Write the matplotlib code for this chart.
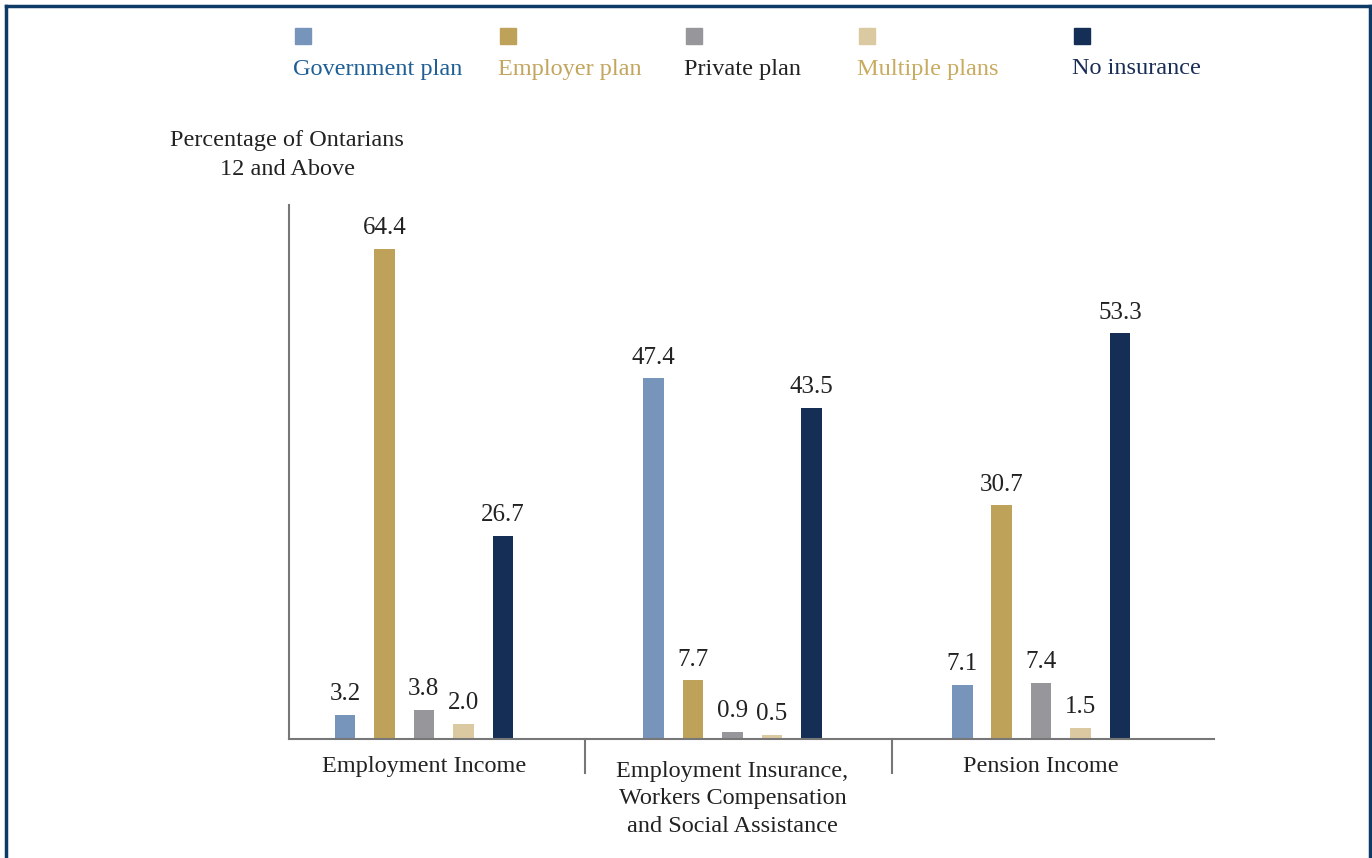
import matplotlib
matplotlib.use("Agg")
import matplotlib.pyplot as plt
from matplotlib.lines import Line2D
from matplotlib.patches import Rectangle
import numpy as np

plt.rcParams['font.family'] = ['Liberation Serif', 'DejaVu Serif']

categories = ["Employment Income",
              "Employment Insurance,\nWorkers Compensation\nand Social Assistance",
              "Pension Income"]
series_names = ["Government plan", "Employer plan", "Private plan", "Multiple plans", "No insurance"]
government = [3.2, 47.4, 7.1]
employer = [64.4, 7.7, 30.7]
private = [3.8, 0.9, 7.4]
multiple = [2.0, 0.5, 1.5]
no_insurance = [26.7, 43.5, 53.3]
series_values = [government, employer, private, multiple, no_insurance]

bar_colors = ["#7795bb", "#bea25a", "#97979b", "#dbc9a1", "#142e55"]
text_colors = ["#1f5f96", "#c3a55e", "#222222", "#c9ab60", "#1a2e55"]

W, H = 1372, 858
fig = plt.figure(figsize=(W / 100, H / 100), dpi=100)
ax = fig.add_axes([289 / W, 1 - 739 / H, (1214 - 289) / W, (739 - 205) / H])

ppu = 309.0
ppy = 7.61
x = np.arange(len(categories))
offsets = np.array([-2, -1, 0, 1, 2]) * (39.5 / ppu)
bw = 20.5 / ppu
for i, (vals, col) in enumerate(zip(series_values, bar_colors)):
    bars = ax.bar(x + offsets[i], vals, width=bw, color=col, zorder=2)
    for b, v in zip(bars, vals):
        ax.annotate(f"{v:.1f}", (b.get_x() + b.get_width() / 2, v),
                    xytext=(0, 7), textcoords="offset points",
                    ha="center", va="bottom", fontsize=18, color="#222222")

ax.set_xlim(-(424 - 289) / ppu, 2 + (1214 - 1041) / ppu)
ax.set_ylim(0, (739 - 205) / ppy)
for s in ["top", "right"]:
    ax.spines[s].set_visible(False)
for s in ["left", "bottom"]:
    ax.spines[s].set_color("#777777")
    ax.spines[s].set_linewidth(1.5)
ax.set_yticks([])
ax.set_xticks([])
# separators
for sx in [(585 - 424) / ppu, (893 - 424) / ppu]:
    ax.plot([sx, sx], [0, -34 / ppy], color="#777777", lw=1.5, clip_on=False)
for xi, cat in zip(x, categories):
    extra = 5 if "\n" in cat else 0
    ax.text(xi, -(17 + extra) / ppy, cat, ha="center", va="top", fontsize=17.5,
            color="#222222", linespacing=1.4)

# y-label
fig.text(287 / W, 1 - 155 / H, "Percentage of Ontarians\n12 and Above", ha="center",
         va="center", fontsize=17.5, color="#222222", linespacing=1.5)

# legend
leg_x = [295, 500, 686, 859, 1074]
for lx, name, bc, tc in zip(leg_x, series_names, bar_colors, text_colors):
    fig.patches.append(Rectangle((lx / W, 1 - 44 / H), 16 / W, 16 / H,
                                 transform=fig.transFigure, color=bc, figure=fig))
    fig.text((lx - 2) / W, 1 - 69 / H, name, ha="left", va="center", fontsize=17.5, color=tc)

# border
bc = "#0e3a66"
fig.lines.append(Line2D([5.5 / W, 5.5 / W], [0, 1 - 5.5 / H], transform=fig.transFigure, color=bc, lw=2.5))
fig.lines.append(Line2D([5.5 / W, 1369.5 / W], [1 - 5.5 / H, 1 - 5.5 / H], transform=fig.transFigure, color=bc, lw=2.5))
fig.lines.append(Line2D([1369.5 / W, 1369.5 / W], [0, 1 - 5.5 / H], transform=fig.transFigure, color=bc, lw=2.5))

fig.savefig("out.png", dpi=100)
